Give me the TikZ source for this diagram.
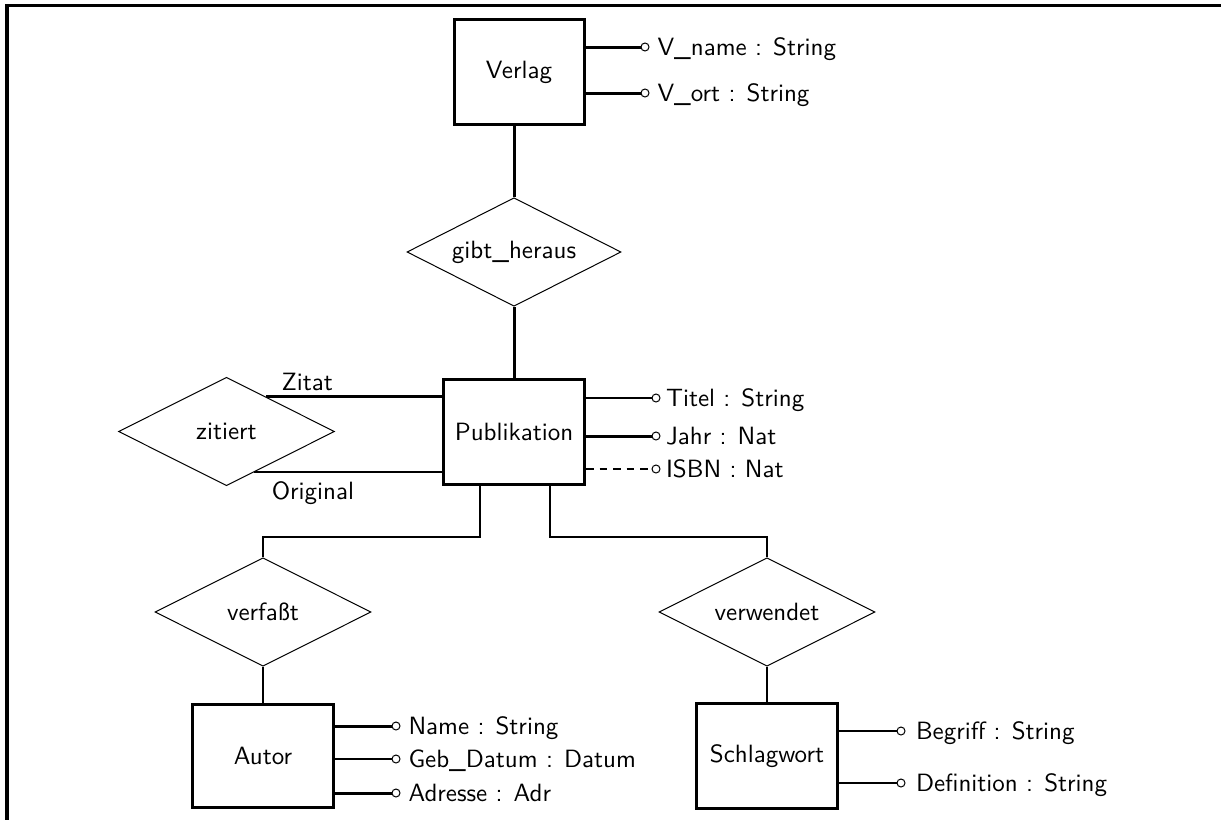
\documentclass[tikz,border=0pt]{standalone}
\usepackage{fontspec}
\usepackage{tikz}
\usetikzlibrary{positioning}
\usetikzlibrary{shapes}
\usetikzlibrary{calc}
\tikzset{
        er_node/.style={align=center,inner sep=0pt,font=\sffamily},
        % Entities
        er_entity/.style={er_node, rectangle, draw=black, line width=1.2pt, minimum width=56.4pt, minimum height=42pt},
        % Relationships
        er_relation/.style={er_node, diamond, aspect=2, draw=black, line width=0.4pt, minimum width=86.4pt, minimum height=43.4pt},
        % Attribute end points
        er_dot/.style={circle, draw=black, fill=white, line width=0.4pt, inner sep=0pt, minimum size=3.2pt},
        % Attribute texts
        er_attr/.style={er_node, anchor=base west, inner xsep=3pt, yshift=-3.2pt},
        % Role names
        er_role/.style={er_node, inner sep=2pt},
        % Connectors
        link_key/.style={line width=1.2pt},
        link_mid/.style={line width=0.9pt},
        link_plain/.style={line width=0.7pt},
        link_opt/.style={line width=0.7pt, dash pattern=on 3pt off 2.4pt}
}

\begin{document}
\begin{tikzpicture}[x=0.4pt, y=-0.4pt]
    \useasboundingbox (0,0) rectangle (1221,820);
    \draw[line width=1.2pt] (1221,5) -- (7,5) -- (7,820);

    % entities and relationships
    \node[er_entity, minimum width=52pt] (verlag) at (519,72) {Verlag};
    \node[er_relation, minimum width=85.6pt] (gibt) at (514,252) {gibt\_heraus};
    \node[er_entity] (publ) at (514,432) {Publikation};
    \node[er_relation] (zit) at (226.5,431.5) {zitiert};
    \node[er_relation] (verf) at (263,612) {verfaßt};
    \node[er_relation] (verw) at (767,612) {verwendet};
    \node[er_entity, minimum height=41.2pt] (autor) at (263,756) {Autor};
    \node[er_entity] (schlag) at (767,756) {Schlagwort};
    \coordinate (fork) at (514,537);

    \draw[link_key] (verlag.south -| gibt.north) -- (gibt.north);
    \draw[link_key] (gibt.south) -- (gibt.south |- publ.north);
    \draw[link_mid] ([xshift=-13.6pt]publ.south) |- (verf.north |- fork) -- (verf.north);
    \draw[link_mid] ([xshift=14.4pt]publ.south) |- (verw.north |- fork) -- (verw.north);
    \draw[link_mid] (verf.south) -- (autor.north);
    \draw[link_mid] (verw.south) -- (schlag.north);

    % roles
    \draw[link_key] ($(zit.north)!0.367!(zit.east)$) coordinate (zitA) -- (zitA -| publ.west)
        node[er_role, pos=0.05, anchor=south west] (zitat) {Zitat};
    \draw[link_mid] ($(zit.south)!0.257!(zit.east)$) coordinate (zitB) -- (zitB -| publ.west)
        node[er_role, pos=0.06, anchor=north west, inner ysep=3.2pt] (original) {Original};

    % Verlag attributes
    \node[er_dot] (vname) at (645,47) {};
    \draw[link_key] (vname.west -| verlag.east) -- (vname);
    \node[er_attr] (vname_t) at (vname.east) {V\_name : String};
    \node[er_dot] (vort) at (645,93) {};
    \draw[link_key] (vort.west -| verlag.east) -- (vort);
    \node[er_attr] (vort_t) at (vort.east) {V\_ort : String};

    % Publikation attributes
    \node[er_dot] (titel) at (656,398) {};
    \draw[link_plain] (titel.west -| publ.east) -- (titel);
    \node[er_attr, inner xsep=2pt] (titel_t) at (titel.east) {Titel : String};
    \node[er_dot] (jahr) at (656,436) {};
    \draw[link_key] (jahr.west -| publ.east) -- (jahr);
    \node[er_attr, inner xsep=2pt] (jahr_t) at (jahr.east) {Jahr : Nat};
    \node[er_dot] (isbn) at (656,469) {};
    \draw[link_opt] (isbn.west -| publ.east) -- (isbn);
    \node[er_attr, inner xsep=2pt] (isbn_t) at (isbn.east) {ISBN : Nat};

    % Autor attributes
    \node[er_dot] (name) at (396,726) {};
    \draw[link_key] (name.west -| autor.east) -- (name);
    \node[er_attr] (name_t) at (name.east) {Name : String};
    \node[er_dot] (geb) at (396,759) {};
    \draw[link_plain] (geb.west -| autor.east) -- (geb);
    \node[er_attr] (geb_t) at (geb.east) {Geb\_Datum : Datum};
    \node[er_dot] (adr) at (396,793) {};
    \draw[link_key] (adr.west -| autor.east) -- (adr);
    \node[er_attr] (adr_t) at (adr.east) {Adresse : Adr};

    % Schlagwort attributes
    \node[er_dot] (begr) at (901,731) {};
    \draw[link_plain] (begr.west -| schlag.east) -- (begr);
    \node[er_attr, inner xsep=4pt] (begr_t) at (begr.east) {Begriff : String};
    \node[er_dot] (defi) at (901,783) {};
    \draw[link_plain] (defi.west -| schlag.east) -- (defi);
    \node[er_attr, inner xsep=4pt] (defi_t) at (defi.east) {Definition : String};
\end{tikzpicture}
\end{document}
